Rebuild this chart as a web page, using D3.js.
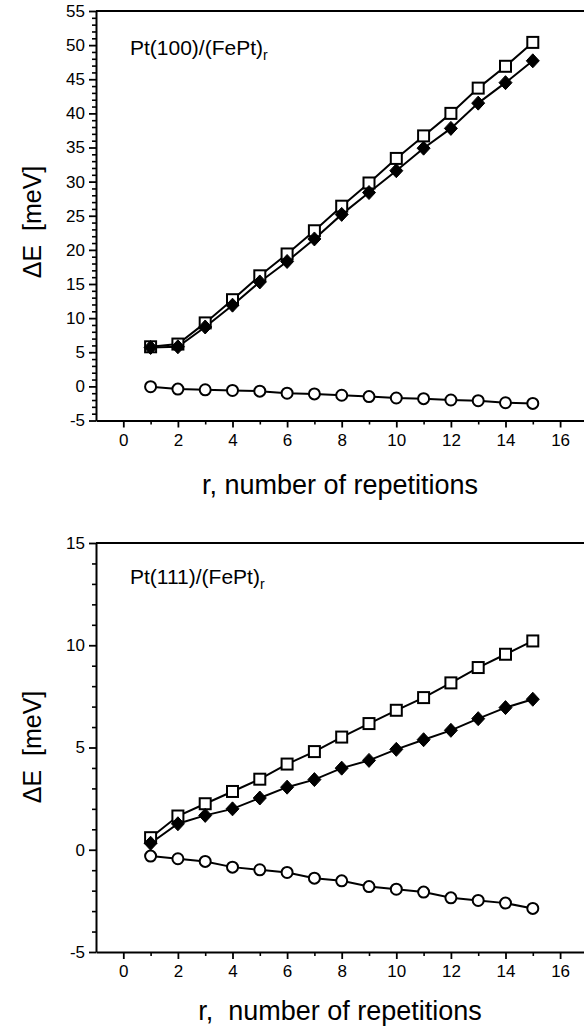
<!DOCTYPE html>
<html>
<head>
<meta charset="utf-8">
<script src="https://cdn.jsdelivr.net/npm/d3@7"></script>
<style>
  body { margin: 0; background: #fff; }
  svg { display: block; font-family: "Liberation Sans", Arial, Helvetica, sans-serif; }
</style>
</head>
<body>
<svg id="chart" width="584" height="1032"></svg>
<script>
// repetitions r
const reps = [1, 2, 3, 4, 5, 6, 7, 8, 9, 10, 11, 12, 13, 14, 15];

// Pt(100)/(FePt)r
const top100Squares = [5.8, 6.2, 9.3, 12.7, 16.2, 19.4, 22.8, 26.4, 29.8, 33.4, 36.7, 40.0, 43.7, 46.9, 50.4];
const top100Diamonds = [5.7, 5.8, 8.7, 11.9, 15.3, 18.3, 21.6, 25.2, 28.4, 31.6, 34.9, 37.8, 41.5, 44.5, 47.7];
const top100Circles = [-0.05, -0.4, -0.5, -0.6, -0.7, -1.0, -1.1, -1.3, -1.5, -1.7, -1.8, -2.0, -2.1, -2.4, -2.5];

// Pt(111)/(FePt)r
const bot111Squares = [0.59, 1.65, 2.25, 2.85, 3.45, 4.19, 4.8, 5.51, 6.17, 6.82, 7.44, 8.16, 8.91, 9.56, 10.21];
const bot111Diamonds = [0.32, 1.27, 1.68, 2.0, 2.53, 3.06, 3.43, 3.99, 4.37, 4.91, 5.38, 5.84, 6.41, 6.95, 7.36];
const bot111Circles = [-0.31, -0.44, -0.57, -0.85, -0.98, -1.11, -1.39, -1.52, -1.8, -1.93, -2.07, -2.35, -2.48, -2.61, -2.87];

// tick values
const xTicks = [0, 2, 4, 6, 8, 10, 12, 14, 16];
const xMinor = [1, 3, 5, 7, 9, 11, 13, 15, 17];
const topYTicks = [-5, 0, 5, 10, 15, 20, 25, 30, 35, 40, 45, 50, 55];
const botYTicks = [-5, 0, 5, 10, 15];

const svg = d3.select('#chart');
const plain = d => String(d); // keep hyphen-minus like the original

function drawPanel(cfg) {
  const g = svg.append('g');
  const x = d3.scaleLinear().domain([-1, 17]).range([96, 587.4]);
  const y = d3.scaleLinear().domain(cfg.yDomain).range([cfg.bottom, cfg.top]);

  // frame: top border
  g.append('line')
    .attr('x1', x(-1)).attr('x2', x(17) + 20)
    .attr('y1', y(cfg.yDomain[1])).attr('y2', y(cfg.yDomain[1]))
    .attr('stroke', '#000').attr('stroke-width', 2);

  // y axis minor ticks (every 1)
  const yMinor = d3.range(cfg.yDomain[0], cfg.yDomain[1] + 1).filter(v => v % 5 !== 0);
  g.append('g')
    .attr('transform', `translate(${x(-1)},0)`)
    .call(d3.axisLeft(y).tickValues(yMinor).tickSize(4).tickFormat('').tickSizeOuter(0))
    .call(a => a.select('.domain').remove())
    .call(a => a.selectAll('line').attr('stroke-width', 1.6));

  // y axis major
  g.append('g')
    .attr('transform', `translate(${x(-1)},0)`)
    .call(d3.axisLeft(y).tickValues(cfg.yTicks).tickFormat(plain).tickSize(7).tickPadding(4).tickSizeOuter(0))
    .call(a => a.select('.domain').attr('stroke-width', 2))
    .call(a => a.selectAll('line').attr('stroke-width', 1.8))
    .call(a => a.selectAll('text').attr('font-size', 17).attr('font-family', null).attr('fill', '#000'));

  // x axis minor
  g.append('g')
    .attr('transform', `translate(0,${cfg.bottom})`)
    .call(d3.axisBottom(x).tickValues(xMinor).tickSize(4).tickFormat('').tickSizeOuter(0))
    .call(a => a.select('.domain').remove())
    .call(a => a.selectAll('line').attr('stroke-width', 1.6));

  // x axis major
  g.append('g')
    .attr('transform', `translate(0,${cfg.bottom})`)
    .call(d3.axisBottom(x).tickValues(xTicks).tickFormat(plain).tickSize(7).tickPadding(6).tickSizeOuter(0))
    .call(a => a.select('.domain').attr('stroke-width', 2))
    .call(a => a.selectAll('line').attr('stroke-width', 1.8))
    .call(a => a.selectAll('text').attr('font-size', 17).attr('font-family', null).attr('fill', '#000'));

  // axis titles
  g.append('text')
    .attr('x', 340).attr('y', cfg.xTitleY)
    .attr('text-anchor', 'middle')
    .attr('font-size', 27)
    .style('white-space', 'pre')
    .text(cfg.xTitle);

  g.append('text')
    .attr('transform', `translate(41,${cfg.yTitleCenter}) rotate(-90)`)
    .attr('text-anchor', 'middle')
    .attr('font-size', 25)
    .style('white-space', 'pre')
    .text('ΔE  [meV]');

  // panel label with subscript
  const lab = g.append('text')
    .attr('x', 130).attr('y', cfg.labelY)
    .attr('font-size', 21);
  lab.append('tspan').text(cfg.label);
  lab.append('tspan').attr('font-size', 14).attr('dy', 5).text('r');

  const line = d3.line().x((d, i) => x(reps[i])).y(d => y(d));

  // series: circles, squares, then diamonds on top
  const series = [
    { values: cfg.circles, type: 'circle' },
    { values: cfg.squares, type: 'square' },
    { values: cfg.diamonds, type: 'diamond' }
  ];

  series.forEach(s => {
    g.append('path')
      .datum(s.values)
      .attr('d', line)
      .attr('fill', 'none')
      .attr('stroke', '#000')
      .attr('stroke-width', 2);
  });

  series.forEach(s => {
    const m = g.append('g').selectAll('g')
      .data(s.values)
      .join('g')
      .attr('transform', (d, i) => `translate(${x(reps[i])},${y(d)})`);
    if (s.type === 'circle') {
      m.append('circle').attr('r', 5.5)
        .attr('fill', '#fff').attr('stroke', '#000').attr('stroke-width', 2);
    } else if (s.type === 'square') {
      m.append('rect').attr('x', -5.5).attr('y', -5.5).attr('width', 11).attr('height', 11)
        .attr('fill', '#fff').attr('stroke', '#000').attr('stroke-width', 2);
    } else {
      m.append('path').attr('d', 'M0,-7L6.5,0L0,7L-6.5,0Z')
        .attr('fill', '#000').attr('stroke', '#000').attr('stroke-width', 1);
    }
  });
}

drawPanel({
  yDomain: [-5, 55], top: 11, bottom: 420.5, yTicks: topYTicks,
  squares: top100Squares, diamonds: top100Diamonds, circles: top100Circles,
  label: 'Pt(100)/(FePt)', labelY: 55,
  xTitle: 'r, number of repetitions', xTitleY: 494, yTitleCenter: 222
});

drawPanel({
  yDomain: [-5, 15], top: 543, bottom: 952, yTicks: botYTicks,
  squares: bot111Squares, diamonds: bot111Diamonds, circles: bot111Circles,
  label: 'Pt(111)/(FePt)', labelY: 584,
  xTitle: 'r,  number of repetitions', xTitleY: 1020, yTitleCenter: 747
});
</script>
</body>
</html>
